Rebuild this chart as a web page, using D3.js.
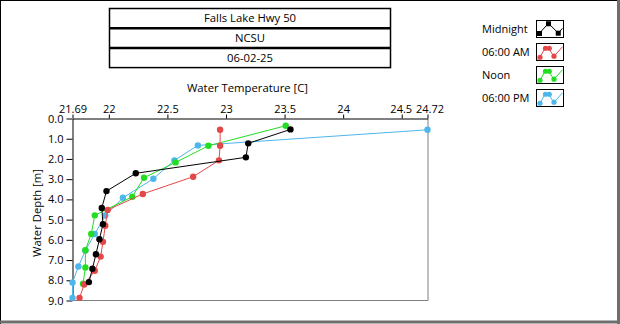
<!DOCTYPE html>
<html>
<head>
<meta charset="utf-8">
<script src="https://cdn.jsdelivr.net/npm/d3@7"></script>
<style>
  html, body { margin: 0; padding: 0; background: #fff; }
  svg { display: block; font-family: "Open Sans", sans-serif; }
</style>
</head>
<body>
<svg id="chart" width="620" height="324"></svg>
<script>
// Header lines
const titleLines = ["Falls Lake Hwy 50", "NCSU", "06-02-25"];

// Axis ticks
const tempTicks = [21.69, 22, 22.5, 23, 23.5, 24, 24.5, 24.72];
const tempTickLabels = ["21.69", "22", "22.5", "23", "23.5", "24", "24.5", "24.72"];
const depthTicks = [0, 1, 2, 3, 4, 5, 6, 7, 8, 9];

// Profiles: depth [m] and water temperature [C]
const seriesNames = ["Midnight", "06:00 AM", "Noon", "06:00 PM"];
const seriesColors = ["#000000", "#e34848", "#22dd22", "#4db6ea"];

const midnightDepth = [0.54, 1.23, 1.92, 2.71, 3.59, 4.42, 5.23, 5.97, 6.71, 7.43, 8.09];
const midnightTemp  = [23.55, 23.19, 23.17, 22.23, 21.98, 21.94, 21.95, 21.92, 21.89, 21.86, 21.83];

const amDepth = [0.56, 1.35, 2.07, 2.88, 3.73, 4.52, 5.30, 6.10, 6.83, 7.53, 8.21, 8.87];
const amTemp  = [22.95, 22.95, 22.94, 22.72, 22.29, 21.99, 21.97, 21.95, 21.93, 21.88, 21.79, 21.75];

const noonDepth = [0.36, 1.35, 2.17, 2.93, 3.87, 4.79, 5.71, 6.51, 7.37, 8.17];
const noonTemp  = [23.51, 22.85, 22.57, 22.30, 22.20, 21.88, 21.85, 21.80, 21.80, 21.78];

const pmDepth = [0.56, 1.33, 2.07, 2.98, 3.92, 4.80, 5.71, 6.53, 7.32, 8.11, 8.87];
const pmTemp  = [24.72, 22.76, 22.56, 22.38, 22.12, 21.97, 21.88, 21.80, 21.74, 21.69, 21.69];

const series = [
  { name: seriesNames[0], color: seriesColors[0], depth: midnightDepth, temp: midnightTemp },
  { name: seriesNames[1], color: seriesColors[1], depth: amDepth, temp: amTemp },
  { name: seriesNames[2], color: seriesColors[2], depth: noonDepth, temp: noonTemp },
  { name: seriesNames[3], color: seriesColors[3], depth: pmDepth, temp: pmTemp }
];

const svg = d3.select("#chart");
const W = 620, H = 324;

// panel background and sunken frame
svg.append("rect").attr("width", W).attr("height", H).attr("fill", "#fff");
svg.append("line").attr("x1", 0.5).attr("y1", 0).attr("x2", 0.5).attr("y2", H).attr("stroke", "#000");
svg.append("line").attr("x1", 0).attr("y1", 0.5).attr("x2", W).attr("y2", 0.5).attr("stroke", "#000");
svg.append("line").attr("x1", W - 1.5).attr("y1", 0).attr("x2", W - 1.5).attr("y2", H).attr("stroke", "#6e6e6e").attr("stroke-width", 3);
svg.append("line").attr("x1", 0).attr("y1", H - 2).attr("x2", W).attr("y2", H - 2).attr("stroke", "#6e6e6e").attr("stroke-width", 3);

// header table
const tbl = { x: 109.5, y: 8.5, w: 281, rowH: 19.7 };
const tg = svg.append("g");
tg.append("rect")
  .attr("x", tbl.x).attr("y", tbl.y)
  .attr("width", tbl.w).attr("height", tbl.rowH * titleLines.length)
  .attr("fill", "none").attr("stroke", "#000").attr("stroke-width", 1.5);
titleLines.forEach((t, i) => {
  if (i > 0) {
    tg.append("line")
      .attr("x1", tbl.x).attr("x2", tbl.x + tbl.w)
      .attr("y1", tbl.y + i * tbl.rowH).attr("y2", tbl.y + i * tbl.rowH)
      .attr("stroke", "#000").attr("stroke-width", 2.5);
  }
  tg.append("text")
    .attr("x", tbl.x + tbl.w / 2)
    .attr("y", tbl.y + i * tbl.rowH + tbl.rowH / 2)
    .attr("dy", "0.35em")
    .attr("text-anchor", "middle")
    .attr("font-size", 11.3)
    .text(t);
});

// plot area
const plot = { left: 72.5, top: 118.5, right: 428, bottom: 300.5 };
const x = d3.scaleLinear().domain([21.69, 24.72]).range([plot.left, plot.right - 0.5]);
const y = d3.scaleLinear().domain([0, 9]).range([plot.top, plot.bottom]);

// plot frame: dark top/left, grey right/bottom
svg.append("line").attr("x1", plot.right).attr("x2", plot.right).attr("y1", plot.top).attr("y2", plot.bottom).attr("stroke", "#808080");
svg.append("line").attr("x1", plot.left).attr("x2", plot.right).attr("y1", plot.bottom).attr("y2", plot.bottom).attr("stroke", "#808080");

const xAxis = d3.axisTop(x)
  .tickValues(tempTicks)
  .tickFormat((d, i) => tempTickLabels[i])
  .tickSizeInner(4).tickSizeOuter(0).tickPadding(2);
const gx = svg.append("g").attr("transform", `translate(0,${plot.top})`).call(xAxis);
gx.select(".domain").attr("stroke", "#000");
gx.selectAll("text").attr("font-size", 11).attr("fill", "#000").attr("font-family", "Open Sans");
gx.selectAll(".tick text").filter(d => d === 24.5).attr("text-anchor", "middle").attr("dx", -1);
gx.selectAll(".tick text").filter(d => d === 24.72).attr("dx", 2);

const yAxis = d3.axisLeft(y)
  .tickValues(depthTicks)
  .tickFormat(d3.format(".1f"))
  .tickSizeInner(6).tickSizeOuter(0).tickPadding(3);
const gy = svg.append("g").attr("transform", `translate(${plot.left},0)`).call(yAxis);
gy.select(".domain").attr("stroke", "#000");
gy.selectAll("text").attr("font-size", 11).attr("fill", "#000").attr("font-family", "Open Sans");

// axis titles
svg.append("text")
  .attr("x", 247.5).attr("y", 88).attr("dy", "0.35em")
  .attr("text-anchor", "middle").attr("font-size", 11.3)
  .text("Water Temperature [C]");
svg.append("text")
  .attr("transform", "translate(37,213) rotate(-90)")
  .attr("dy", "0.35em")
  .attr("text-anchor", "middle").attr("font-size", 11.3)
  .text("Water Depth [m]");

// profiles (first series on top)
const line = d3.line().x(d => x(d[1])).y(d => y(d[0]));
const pg = svg.append("g");
series.slice().reverse().forEach(s => {
  const pts = s.depth.map((d, i) => [d, s.temp[i]]);
  const g = pg.append("g");
  g.append("path").datum(pts)
    .attr("d", line)
    .attr("fill", "none").attr("stroke", s.color).attr("stroke-width", 1);
  g.selectAll("circle").data(pts).join("circle")
    .attr("cx", d => x(d[1])).attr("cy", d => y(d[0]))
    .attr("r", 3.2).attr("fill", s.color);
});

// legend
const leg = { labelX: 482, boxX: 536.5, top: 20.5, pitch: 23, boxW: 27, boxH: 17 };
const glyphLines = {
  square: [[0.04, 0.85], [0.44, 0.12], [0.83, 0.78], [1.0, 0.45]],
  wave: [[0.0, 1.0], [0.1, 0.85], [0.3, 0.25], [0.45, 0.25], [0.65, 0.8], [1.0, 0.15]]
};
const glyphMarks = {
  square: [[0.08, 0.8], [0.44, 0.15], [0.83, 0.78]],
  wave: [[0.1, 0.85], [0.32, 0.25], [0.47, 0.25], [0.66, 0.78]]
};
series.forEach((s, i) => {
  const yy = leg.top + i * leg.pitch;
  svg.append("text")
    .attr("x", leg.labelX).attr("y", yy + leg.boxH / 2).attr("dy", "0.35em")
    .attr("font-size", 11).text(s.name);
  const g = svg.append("g").attr("transform", `translate(${leg.boxX},${yy})`);
  g.append("rect").attr("width", leg.boxW).attr("height", leg.boxH)
    .attr("fill", "#fff").attr("stroke", "#000").attr("stroke-width", 1);
  const kind = i === 0 ? "square" : "wave";
  const gl = d3.line().x(p => 1 + p[0] * (leg.boxW - 2)).y(p => 1 + p[1] * (leg.boxH - 2));
  g.append("path").attr("d", gl(glyphLines[kind]))
    .attr("fill", "none").attr("stroke", s.color).attr("stroke-width", 1);
  glyphMarks[kind].forEach(p => {
    const cx = 1 + p[0] * (leg.boxW - 2), cy = 1 + p[1] * (leg.boxH - 2);
    if (kind === "square") {
      g.append("rect").attr("x", cx - 2.5).attr("y", cy - 2.5).attr("width", 5).attr("height", 5).attr("fill", s.color);
    } else {
      g.append("circle").attr("cx", cx).attr("cy", cy).attr("r", 2.6).attr("fill", s.color);
    }
  });
});
</script>
</body>
</html>
